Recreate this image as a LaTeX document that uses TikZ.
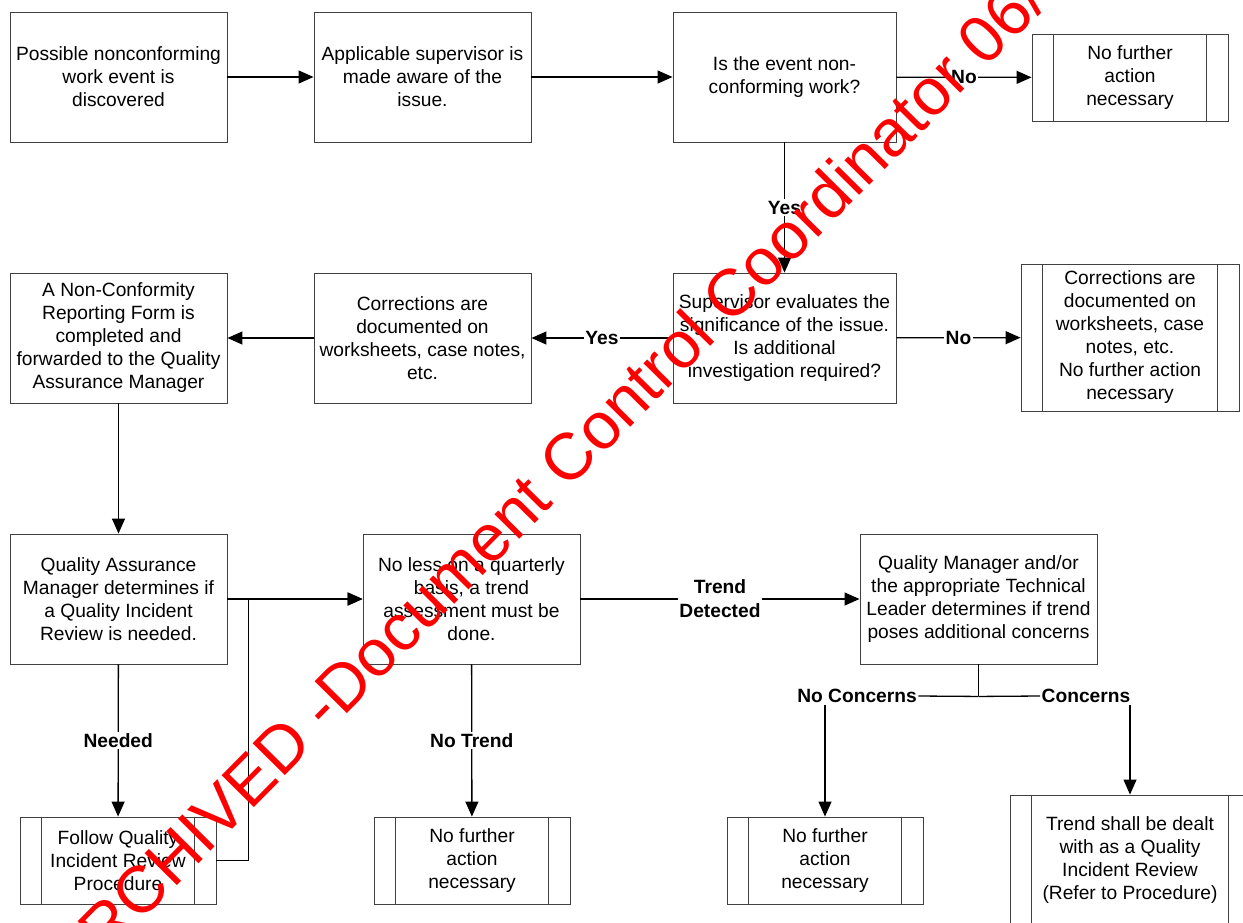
\documentclass[tikz,border=0pt]{standalone}
\usepackage{fontspec}
\setmainfont{Liberation Sans}
\usetikzlibrary{arrows.meta,calc}
\definecolor{colorbox}{HTML}{404040}
\definecolor{colormark}{HTML}{FF0000}
\tikzset{
  stepbox/.style={draw=colorbox, line width=0.9pt, align=center, inner sep=0pt,
    minimum width=217pt, minimum height=130pt, font=\fontsize{19.2}{23}\selectfont},
  predef/.style={stepbox, minimum width=196pt, minimum height=87pt},
  edgeflow/.style={black, line width=1.3pt, -{Triangle[length=15pt,width=13pt]}},
  edgeline/.style={black, line width=1.3pt},
  edgelbl/.style={fill=white, inner sep=1.5pt, align=center,
    font=\fontsize{19.2}{24}\selectfont\bfseries}
}
\newcommand\predefbars[1]{%
  \draw[colorbox, line width=0.9pt] ([xshift=22pt]#1.north west) -- ([xshift=22pt]#1.south west)
    ([xshift=-22pt]#1.north east) -- ([xshift=-22pt]#1.south east);}

\begin{document}
\begin{tikzpicture}[x=1pt, y=-1pt]
\useasboundingbox (0,0) rectangle (1243,922);
% first row
\node[stepbox] (found) at (118.5,77) {Possible nonconforming\\work event is\\discovered};
\node[stepbox] (aware) at (422.5,77) {Applicable supervisor is\\made aware of the\\issue.};
\node[stepbox, minimum width=223pt] (isnc) at (784.5,77) {Is the event non-\\conforming work?};
\node[predef] (nofur1) at (1130,77.5) {No further\\action\\necessary};
% second row
\node[stepbox, minimum width=223pt] (evals) at (784.5,338) {Supervisor evaluates the\\significance of the issue.\\Is additional\\investigation required?};
\node[stepbox] (corr) at (422.5,338) {Corrections are\\documented on\\worksheets, case notes,\\etc.};
\node[stepbox] (ncform) at (118.5,338) {A Non-Conformity\\Reporting Form is\\completed and\\forwarded to the Quality\\Assurance Manager};
\node[predef, minimum width=218pt, minimum height=147pt] (corrend) at (1130,337.5) {Corrections are\\documented on\\worksheets, case\\notes, etc.\\No further action\\necessary};
% third row
\node[stepbox] (qamgr) at (118.5,599) {Quality Assurance\\Manager determines if\\a Quality Incident\\Review is needed.};
\node[stepbox] (trend) at (471.5,599) {No less on a quarterly\\basis, a trend\\assessment must be\\done.};
\node[stepbox, minimum width=237pt] (qmgr) at (978.5,599) {Quality Manager and/or\\the appropriate Technical\\Leader determines if trend\\poses additional concerns};
% last row
\node[predef] (qir) at (118,860.5) {Follow Quality\\Incident Review\\Procedure};
\node[predef] (nofur2) at (472,860.5) {No further\\action\\necessary};
\node[predef] (nofur3) at (825,860.5) {No further\\action\\necessary};
\node[predef, minimum width=240pt, minimum height=130pt] (qirtrend) at (1130,860) {Trend shall be dealt\\with as a Quality\\Incident Review\\(Refer to Procedure)};
\predefbars{nofur1}
\predefbars{corrend}
\predefbars{qir}
\predefbars{nofur2}
\predefbars{nofur3}
\predefbars{qirtrend}

\draw[edgeflow] (found) -- (aware);
\draw[edgeflow] (aware) -- (isnc);
\draw[edgeflow] (isnc) -- node[edgelbl] {No} (nofur1);
\draw[edgeflow] (isnc) -- node[edgelbl] {Yes} (evals);
\draw[edgeflow] (evals) -- node[edgelbl] {Yes} (corr);
\draw[edgeflow] (evals) -- node[edgelbl] {No} (corrend);
\draw[edgeflow] (corr) -- (ncform);
\draw[edgeflow] (ncform) -- (qamgr);
\draw[edgeflow] (qamgr) -- (trend);
\draw[edgeflow] (qamgr) -- node[edgelbl] {Needed} (qir);
\draw[edgeflow] (qir.east) -- ++(32,0) |- (trend.west);
\draw[edgeflow] (trend) -- node[edgelbl] {No Trend} (nofur2);
\draw[edgeflow] (trend) -- node[edgelbl] {Trend\\Detected} (qmgr);

\coordinate (fork) at ($(qmgr.south)+(0,32)$);
\node[edgelbl, fill=none] (noconc) at (857,696) {No Concerns};
\node[edgelbl, fill=none] (conc) at (1086,696) {Concerns};
\draw[edgeline] (qmgr.south) -- (fork);
\draw[edgeline] (fork) -- (noconc.east);
\draw[edgeline] (fork) -- (conc.west);
\draw[edgeflow] (nofur3.north |- noconc.south) -- (nofur3.north);
\draw[edgeflow] (qirtrend.north |- conc.south) -- (qirtrend.north);

% watermark
\begin{scope}
\clip (0,0) rectangle (1243,922);
\node[colormark, rotate=45.3, anchor=base west, inner sep=0pt,
  font=\fontsize{66}{70}\selectfont] (mark) at (75,988.5) {ARCHIVED -Document Control Coordinator 06/};
\end{scope}
\end{tikzpicture}
\end{document}
